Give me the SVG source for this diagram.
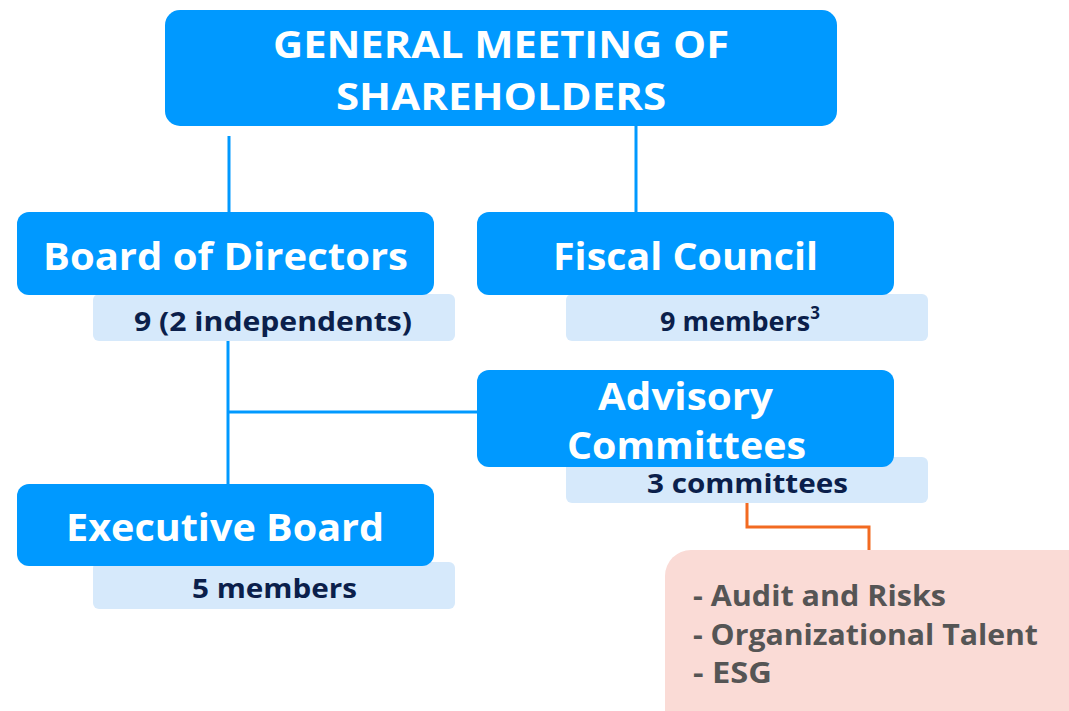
<svg xmlns="http://www.w3.org/2000/svg" width="1069" height="711" viewBox="0 0 1069 711">
<style>
.main{fill:#0099FF;}
.sub{fill:#D6E9FB;}
.t{font-family:"Open Sans","Noto Sans","DejaVu Sans",sans-serif;font-weight:bold;text-anchor:middle;}
.wt{fill:#FFFFFF;font-size:38px;}
.st{fill:#0B1F4B;font-size:27px;}
.ln{stroke:#0099FF;stroke-width:3;fill:none;}
.or{stroke:#F26A21;stroke-width:3;fill:none;}
.lt{font-family:"Open Sans","Noto Sans","DejaVu Sans",sans-serif;font-weight:bold;fill:#555555;font-size:29px;}
</style>
<rect width="1069" height="711" fill="#FFFFFF"/>
<g id="connectors">
<line class="ln" x1="229" y1="136" x2="229" y2="213"/>
<line class="ln" x1="636" y1="126" x2="636" y2="213"/>
<line class="ln" x1="228" y1="341" x2="228" y2="485"/>
<line class="ln" x1="228" y1="412" x2="478" y2="412"/>
<polyline class="or" points="747,503 747,527 869,527 869,551"/>
</g>
<g id="gms">
<rect class="main" x="165" y="10" width="672" height="116" rx="15"/>
<text class="t wt" x="501" y="58" textLength="456" lengthAdjust="spacingAndGlyphs">GENERAL MEETING OF</text>
<text class="t wt" x="501" y="110" textLength="330" lengthAdjust="spacingAndGlyphs">SHAREHOLDERS</text>
</g>
<g id="board">
<rect class="sub" x="93" y="294" width="362" height="47" rx="6"/>
<rect class="main" x="17" y="212" width="417" height="83" rx="12"/>
<text class="t wt" x="225.5" y="270" textLength="365" lengthAdjust="spacingAndGlyphs">Board of Directors</text>
<text class="t st" x="273" y="331" textLength="278" lengthAdjust="spacingAndGlyphs">9 (2 independents)</text>
</g>
<g id="fiscal">
<rect class="sub" x="566" y="294" width="362" height="47" rx="6"/>
<rect class="main" x="477" y="212" width="417" height="83" rx="12"/>
<text class="t wt" x="685.5" y="270" textLength="265" lengthAdjust="spacingAndGlyphs">Fiscal Council</text>
<text class="t st" x="740" y="331"><tspan>9 members</tspan><tspan font-size="17" dy="-12">3</tspan></text>
</g>
<g id="advisory">
<rect class="sub" x="566" y="457" width="362" height="46" rx="6"/>
<rect class="main" x="477" y="370" width="417" height="97" rx="12"/>
<text class="t wt" x="685.5" y="410" textLength="175" lengthAdjust="spacingAndGlyphs">Advisory</text>
<text class="t wt" x="686.5" y="459" textLength="239" lengthAdjust="spacingAndGlyphs">Committees</text>
<text class="t st" x="747.5" y="493" textLength="201" lengthAdjust="spacingAndGlyphs">3 committees</text>
</g>
<g id="executive">
<rect class="sub" x="93" y="562" width="362" height="47" rx="6"/>
<rect class="main" x="17" y="484" width="417" height="82" rx="12"/>
<text class="t wt" x="225" y="541" textLength="318" lengthAdjust="spacingAndGlyphs">Executive Board</text>
<text class="t st" x="274.5" y="598" textLength="165" lengthAdjust="spacingAndGlyphs">5 members</text>
</g>
<g id="committees">
<rect x="665" y="550" width="430" height="190" rx="26" fill="#FADBD6"/>
<text class="lt" x="693" y="606" textLength="253" lengthAdjust="spacingAndGlyphs">- Audit and Risks</text>
<text class="lt" x="693" y="645" textLength="345" lengthAdjust="spacingAndGlyphs">- Organizational Talent</text>
<text class="lt" x="693" y="683" textLength="79" lengthAdjust="spacingAndGlyphs">- ESG</text>
</g>
</svg>
